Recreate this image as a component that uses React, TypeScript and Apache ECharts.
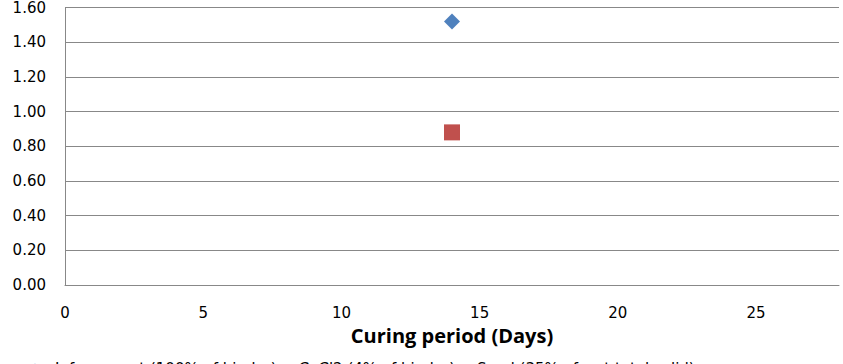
import React, { useEffect, useRef } from "react";
import * as echarts from "echarts";

const seriesNames = [
  "Infu cement (100% of binder) + CaCl2 (4% of binder) + Sand (35% of wet total solid)",
  "Infu cement (100% of binder) + CaCl2 (4% of binder)",
];
const curingDays = [14];
const seriesAValues = [1.52];
const seriesBValues = [0.88];
const yTicks = [0, 0.2, 0.4, 0.6, 0.8, 1.0, 1.2, 1.4, 1.6];

export default function App() {
  const ref = useRef<HTMLDivElement>(null);
  useEffect(() => {
    document.body.style.margin = "0";
    const chart = echarts.init(ref.current!, null, { renderer: "svg" });
    chart.setOption({
      animation: false,
      backgroundColor: "#ffffff",
      textStyle: { fontFamily: "DejaVu Sans" },
      grid: { left: 65, right: 4, top: 7, bottom: 79, containLabel: false },
      legend: {
        show: true,
        left: 25,
        top: 356,
        itemWidth: 10,
        itemHeight: 10,
        itemGap: 30,
        textStyle: { fontSize: 15, color: "#000", fontFamily: "DejaVu Sans", padding: [0, 0, 0, 10] },
        data: [seriesNames[0], seriesNames[1]],
      },
      xAxis: {
        type: "value",
        min: 0,
        max: 28,
        interval: 5,
        name: "Curing period (Days)",
        nameLocation: "middle",
        nameGap: 40,
        nameTextStyle: { fontSize: 20, fontWeight: "bold", color: "#000", fontFamily: "Open Sans" },
        axisLine: { show: true, lineStyle: { color: "#888888", width: 1 } },
        axisTick: { show: false },
        splitLine: { show: false },
        axisLabel: { fontSize: 15, color: "#000", margin: 20, showMaxLabel: false, fontFamily: "DejaVu Sans" },
      },
      yAxis: {
        type: "value",
        min: 0,
        max: 1.6,
        interval: 0.2,
        axisLine: { show: true, lineStyle: { color: "#888888", width: 1 } },
        axisTick: { show: false },
        splitLine: { show: true, lineStyle: { color: "#888888", width: 1 } },
        axisLabel: {
          fontSize: 15,
          color: "#000",
          margin: 19,
          fontFamily: "DejaVu Sans",
          formatter: (v: number) => (yTicks.some((t) => Math.abs(t - v) < 1e-9) ? v.toFixed(2) : ""),
        },
      },
      series: [
        {
          name: seriesNames[0],
          type: "scatter",
          symbol: "diamond",
          symbolSize: 16,
          itemStyle: { color: "#4F81BD", opacity: 1 },
          data: curingDays.map((d, i) => [d, seriesAValues[i]]),
        },
        {
          name: seriesNames[1],
          type: "scatter",
          symbol: "rect",
          symbolSize: 16,
          itemStyle: { color: "#C0504D", opacity: 1 },
          data: curingDays.map((d, i) => [d, seriesBValues[i]]),
        },
      ],
    });
    return () => chart.dispose();
  }, []);
  return <div ref={ref} style={{ position: "absolute", left: 0, top: 0, width: 843, height: 364 }} />;
}
